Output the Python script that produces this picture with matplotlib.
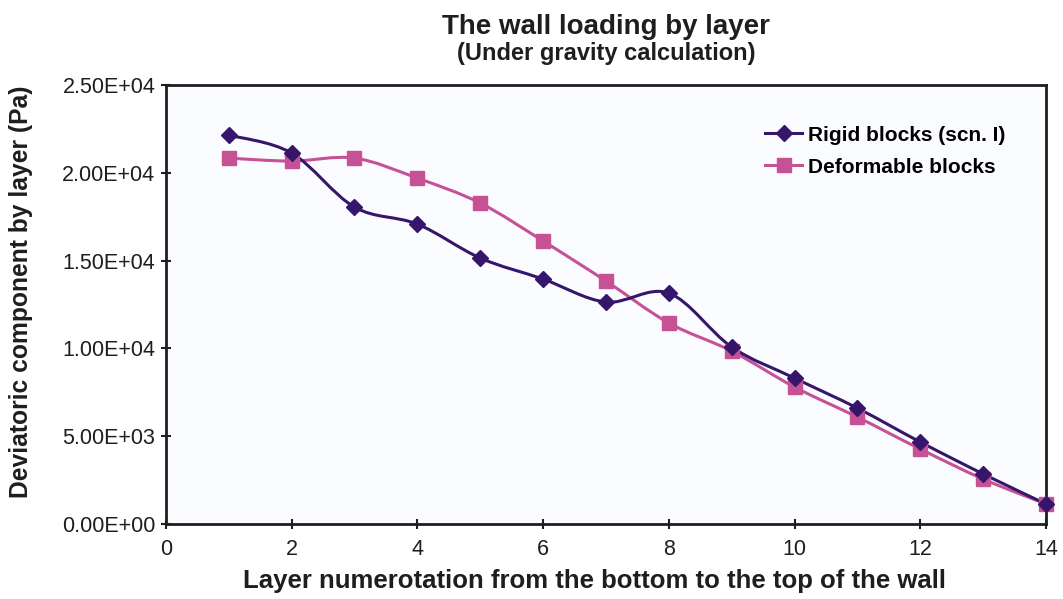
import numpy as np
import matplotlib
matplotlib.use("Agg")
import matplotlib.pyplot as plt
from matplotlib.path import Path
from matplotlib.patches import PathPatch
from matplotlib.lines import Line2D
from matplotlib.ticker import FuncFormatter

plt.rcParams['font.family'] = ['Liberation Sans', 'DejaVu Sans']

# data
layers = [1, 2, 3, 4, 5, 6, 7, 8, 9, 10, 11, 12, 13, 14]
rigid = [22150, 21130, 18050, 17080, 15150, 13950, 12640, 13150, 10080, 8310, 6600, 4670, 2850, 1140]
deformable = [20840, 20670, 20840, 19700, 18280, 16120, 13840, 11450, 9850, 7800, 6090, 4270, 2560, 1140]

rigidColor = "#36166A"
deformColor = "#C65295"
textColor = "#1E1E1E"


# smoothed line like the spreadsheet one (bezier through the points)
def smoothPath(xs, ys):
   pts = np.column_stack([xs, ys]).astype(float)
   n = len(pts)
   verts = [pts[0]]
   codes = [Path.MOVETO]
   for i in range(n - 1):
      p0 = pts[max(i - 1, 0)]
      p1 = pts[i]
      p2 = pts[i + 1]
      p3 = pts[min(i + 2, n - 1)]
      c1 = p1 + (p2 - p0) / 6.0
      c2 = p2 - (p3 - p1) / 6.0
      verts += [c1, c2, p2]
      codes += [Path.CURVE4] * 3
   return Path(verts, codes)


fig = plt.figure(figsize=(10.63, 5.99), dpi=100)
ax = fig.add_axes([0.156, 0.1252, 0.828, 0.7328])
ax.set_facecolor("#FBFCFF")

ax.add_patch(PathPatch(smoothPath(layers, rigid), facecolor="none", edgecolor=rigidColor, lw=2.2, zorder=3))
ax.add_patch(PathPatch(smoothPath(layers, deformable), facecolor="none", edgecolor=deformColor, lw=2.2, zorder=2))
ax.plot(layers, rigid, linestyle="none", marker="D", markersize=8, color=rigidColor, zorder=4, clip_on=False)
ax.plot(layers, deformable, linestyle="none", marker="s", markersize=10, color=deformColor, zorder=3, clip_on=False)

ax.set_xlim(0, 14)
ax.set_ylim(0, 25000)
ax.set_xticks(range(0, 15, 2))
ax.set_yticks(np.arange(0, 25001, 5000))
ax.yaxis.set_major_formatter(FuncFormatter(lambda v, p: "%.2E" % v))
ax.tick_params(direction="inout", length=7, width=1.5, labelsize=15.5, colors=textColor)
ax.tick_params(axis="y", pad=4)
ax.tick_params(axis="x", pad=7)
for s in ax.spines.values():
   s.set_linewidth(2)
   s.set_color(textColor)

fig.text(0.559, 0.030, "Layer numerotation from the bottom to the top of the wall", ha="center", va="center",
         fontsize=18.5, fontweight="bold", color=textColor)
fig.text(0.020, 0.513, "Deviatoric component by layer (Pa)", ha="center", va="center", rotation=90,
         fontsize=17.75, fontweight="bold", color=textColor)

fig.text(0.570, 0.955, "The wall loading by layer", ha="center", va="center", fontsize=20, fontweight="bold", color=textColor)
fig.text(0.570, 0.910, "(Under gravity calculation)", ha="center", va="center", fontsize=17, fontweight="bold", color=textColor)

handles = [Line2D([], [], color=rigidColor, lw=2.2, marker="D", markersize=8),
           Line2D([], [], color=deformColor, lw=2.2, marker="s", markersize=10)]
ax.legend(handles, ["Rigid blocks (scn. I)", "Deformable blocks"], loc="upper left",
          bbox_to_anchor=(0.66, 0.95), frameon=False,
          prop={"weight": "bold", "size": 15}, handlelength=1.75, handletextpad=0.3, labelspacing=0.62)

fig.savefig("out.png", dpi=100)
